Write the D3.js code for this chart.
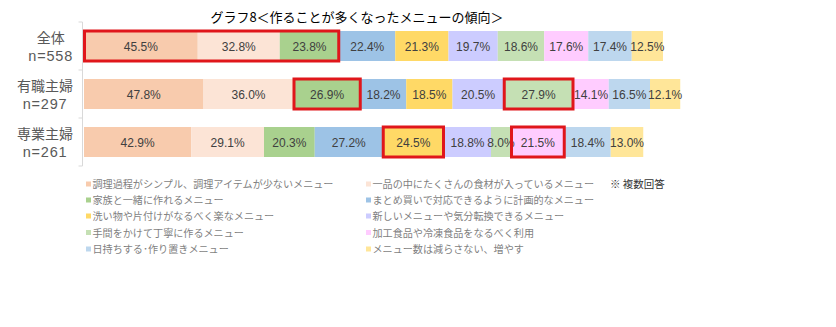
<!DOCTYPE html>
<html>
<head>
<meta charset="utf-8">
<script src="https://cdn.jsdelivr.net/npm/d3@7"></script>
<style>
  html, body { margin: 0; padding: 0; background: #fff; }
  svg { display: block; }
</style>
</head>
<body>
<svg id="chart" width="836" height="327"></svg>
<script>
// Respondent groups (two-line labels)
const groups = ["全体", "有職主婦", "専業主婦"];
const groupN = ["n=558", "n=297", "n=261"];

// Menu tendencies (series order)
const series = [
  "調理過程がシンプル、調理アイテムが少ないメニュー",
  "一品の中にたくさんの食材が入っているメニュー",
  "家族と一緒に作れるメニュー",
  "まとめ買いで対応できるように計画的なメニュー",
  "洗い物や片付けがなるべく楽なメニュー",
  "新しいメニューや気分転換できるメニュー",
  "手間をかけて丁寧に作るメニュー",
  "加工食品や冷凍食品をなるべく利用",
  "日持ちする･作り置きメニュー",
  "メニュー数は減らさない、増やす"
];

// Percentages per group, in series order
const valuesAll     = [45.5, 32.8, 23.8, 22.4, 21.3, 19.7, 18.6, 17.6, 17.4, 12.5];
const valuesWorking = [47.8, 36.0, 26.9, 18.2, 18.5, 20.5, 27.9, 14.1, 16.5, 12.1];
const valuesHome    = [42.9, 29.1, 20.3, 27.2, 24.5, 18.8,  8.0, 21.5, 18.4, 13.0];
const groupValues = [valuesAll, valuesWorking, valuesHome];

// Highlighted segment ranges per group: [first, last] series index
const highlights = [
  [[0, 2]],
  [[2, 2], [6, 6]],
  [[4, 4], [7, 7]]
];

const colors = ["#F8CBAD", "#FCE4D6", "#A9D18E", "#9DC3E6", "#FFD966",
                "#CCCCFF", "#C5E0B4", "#FFCCFF", "#BDD7EE", "#FFE699"];

const title = "グラフ8＜作ることが多くなったメニューの傾向＞";
const note = "※ 複数回答";

const svg = d3.select("#chart");
const jp = "'Noto Sans CJK JP', 'Noto Sans', sans-serif";
const latin = "'Liberation Sans', Arial, sans-serif";

const x = d3.scaleLinear().domain([0, 300]).range([84, 834]);
const y = d3.scaleBand().domain(groups).range([22, 166]).paddingInner(0.375).paddingOuter(0.1875);
const color = d3.scaleOrdinal().domain(series).range(colors);

// Title
svg.append("text")
  .attr("x", 357).attr("y", 22)
  .attr("text-anchor", "middle")
  .attr("font-family", jp).attr("font-size", 13)
  .attr("fill", "#000")
  .text(title);

// Left axis line with ticks at band boundaries
const axisX = x(0) - 1.5;
const [r0, r1] = y.range();
svg.append("line")
  .attr("x1", axisX).attr("x2", axisX).attr("y1", r0).attr("y2", r1)
  .attr("stroke", "#D9D9D9").attr("stroke-width", 1);
svg.selectAll("line.tick")
  .data(d3.range(groups.length + 1))
  .join("line").attr("class", "tick")
  .attr("x1", axisX - 4).attr("x2", axisX)
  .attr("y1", i => r0 + i * y.step()).attr("y2", i => r0 + i * y.step())
  .attr("stroke", "#D9D9D9").attr("stroke-width", 1);

// Stacked segments
const rows = groups.map((g, gi) => {
  let acc = 0;
  return groupValues[gi].map((v, si) => {
    const seg = { group: g, gi, si, key: series[si], value: v, x0: acc, x1: acc + v };
    acc += v;
    return seg;
  });
});

const rowG = svg.selectAll("g.row").data(rows).join("g").attr("class", "row");

rowG.selectAll("rect")
  .data(d => d)
  .join("rect")
  .attr("x", d => x(d.x0))
  .attr("y", d => y(d.group))
  .attr("width", d => x(d.x1) - x(d.x0))
  .attr("height", y.bandwidth())
  .attr("fill", d => color(d.key));

rowG.selectAll("text.val")
  .data(d => d)
  .join("text").attr("class", "val")
  .attr("x", d => (x(d.x0) + x(d.x1)) / 2)
  .attr("y", d => y(d.group) + y.bandwidth() / 2 + 4.5)
  .attr("text-anchor", "middle")
  .attr("font-family", latin)
  .attr("font-size", 12)
  .attr("fill", "#404040")
  .text(d => d.value.toFixed(1) + "%");

// Red highlight frames
const frames = [];
highlights.forEach((list, gi) => {
  list.forEach(([a, b]) => frames.push({ gi, a: rows[gi][a], b: rows[gi][b] }));
});
svg.selectAll("rect.frame")
  .data(frames)
  .join("rect").attr("class", "frame")
  .attr("x", d => x(d.a.x0) + 0.5)
  .attr("y", d => y(groups[d.gi]))
  .attr("width", d => x(d.b.x1) - x(d.a.x0) - 1)
  .attr("height", y.bandwidth())
  .attr("fill", "none")
  .attr("stroke", "#E0161B")
  .attr("stroke-width", 3);

// Category labels: two centred lines, block right-aligned to the axis
groups.forEach((g, gi) => {
  const cy = y(g) + y.bandwidth() / 2;
  const lg = svg.append("g");
  lg.append("text").attr("x", 0).attr("y", cy - 3.5)
    .attr("text-anchor", "middle")
    .attr("font-family", jp).attr("font-size", 14).attr("fill", "#595959")
    .text(g);
  lg.append("text").attr("x", 0).attr("y", cy + 15)
    .attr("text-anchor", "middle")
    .attr("font-family", latin).attr("font-size", 14.5).attr("fill", "#595959")
    .attr("letter-spacing", 0.8)
    .text(groupN[gi]);
  const bb = lg.node().getBBox();
  lg.attr("transform", `translate(${73 - (bb.x + bb.width)},0)`);
});

// Legend: two columns, row-major order
const legendCols = [86, 366];
const legendRows = [184, 200, 216, 232.5, 249];
const leg = svg.selectAll("g.legend")
  .data(series)
  .join("g").attr("class", "legend")
  .attr("transform", (d, i) => `translate(${legendCols[i % 2]},${legendRows[Math.floor(i / 2)]})`);
leg.append("rect")
  .attr("x", 0).attr("y", -2.5).attr("width", 5).attr("height", 5)
  .attr("fill", d => color(d));
leg.append("text")
  .attr("x", 6.5).attr("y", 4)
  .attr("font-family", jp).attr("font-size", 10.1)
  .attr("fill", "#7F7F7F")
  .text(d => d);

svg.append("text")
  .attr("x", 610).attr("y", 188)
  .attr("font-family", jp).attr("font-size", 10.5)
  .attr("fill", "#333")
  .text(note);
</script>
</body>
</html>
